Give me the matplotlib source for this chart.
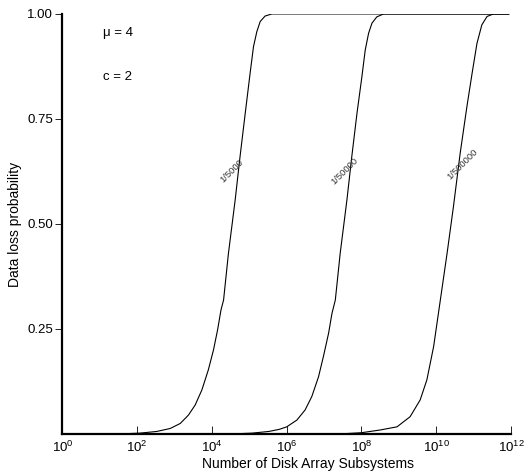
import numpy as np
import matplotlib.pyplot as plt

plt.rcParams['font.family'] = ['Liberation Sans', 'DejaVu Sans']
plt.rcParams['mathtext.fontset'] = 'custom'
plt.rcParams['mathtext.rm'] = 'Liberation Sans'

# log10 of number of subsystems and data loss probability, one set per rate
logn_5k = [0.0, 1.5, 2.07, 2.52, 2.88, 3.15, 3.37, 3.55, 3.73, 3.90, 4.04, 4.15, 4.24,
           4.31, 4.44, 4.62, 4.75, 4.89, 5.02, 5.11, 5.20, 5.29, 5.42, 5.60, 11.94]
prob_5k = [0.0, 0.0, 0.002, 0.006, 0.013, 0.025, 0.045, 0.069, 0.105, 0.152, 0.20, 0.248, 0.295,
           0.319, 0.43, 0.557, 0.66, 0.764, 0.859, 0.922, 0.958, 0.982, 0.995, 1.0, 1.0]

logn_50k = [0.0, 4.5, 5.07, 5.52, 5.80, 6.00, 6.27, 6.49, 6.67, 6.85, 6.98, 7.12, 7.21,
            7.30, 7.43, 7.61, 7.74, 7.88, 8.01, 8.10, 8.19, 8.28, 8.41, 8.59, 11.94]
prob_50k = [0.0, 0.0, 0.002, 0.006, 0.011, 0.017, 0.033, 0.057, 0.089, 0.136, 0.184, 0.24, 0.287,
            0.319, 0.43, 0.557, 0.66, 0.764, 0.85, 0.914, 0.954, 0.978, 0.993, 1.0, 1.0]

logn_500k = [0.0, 7.4, 8.0, 8.50, 8.95, 9.30, 9.57, 9.75, 9.93, 10.11, 10.29, 10.46,
             10.64, 10.82, 10.96, 11.09, 11.22, 11.36, 11.53, 11.94]
prob_500k = [0.0, 0.0, 0.003, 0.0095, 0.017, 0.041, 0.081, 0.129, 0.208, 0.319, 0.43, 0.541,
             0.668, 0.779, 0.859, 0.93, 0.974, 0.994, 1.0, 1.0]

rate_labels = ['1/5000', '1/50000', '1/500000']
label_logn = [4.54, 7.56, 10.69]
label_prob = [0.625, 0.625, 0.643]

fig = plt.figure(figsize=(5.31, 4.73), dpi=100)
ax = fig.add_axes([0.1177, 0.0825, 0.8446, 0.888])

for lx, p in [(logn_5k, prob_5k), (logn_50k, prob_50k), (logn_500k, prob_500k)]:
    ax.plot(10**np.array(lx), p, color='black', lw=0.8)

for txt, lx, p in zip(rate_labels, label_logn, label_prob):
    ax.text(10**lx, p, txt, rotation=45, fontsize=6.8, color='#333333',
            ha='center', va='center', rotation_mode='anchor')

ax.set_xscale('log')
ax.set_xlim(1, 1e12)
ax.set_ylim(0, 1)
ax.set_xticks([10.0**k for k in range(0, 13, 2)])
ax.set_xticklabels([f'$10^{{{k}}}$' for k in range(0, 13, 2)])
ax.minorticks_off()
ax.set_yticks([0.25, 0.5, 0.75, 1.0])
ax.set_yticklabels(['0.25', '0.50', '0.75', '1.00'])

ax.tick_params(axis='x', direction='in', length=6, width=0.6, labelsize=9.5, pad=4)
ax.tick_params(axis='y', direction='out', length=5, width=0.6, labelsize=9.5, pad=2)
for s in ['top', 'right']:
    ax.spines[s].set_visible(False)
for s in ['left', 'bottom']:
    ax.spines[s].set_linewidth(1.6)

ax.set_xlabel('Number of Disk Array Subsystems', fontsize=10)
ax.xaxis.set_label_coords(0.547, -0.055)
ax.set_ylabel('Data loss probability', fontsize=10)
ax.yaxis.set_label_coords(-0.09, 0.5)

ax.text(0.09, 0.955, 'μ = 4', transform=ax.transAxes, fontsize=9.5, va='center')
ax.text(0.09, 0.85, 'c = 2', transform=ax.transAxes, fontsize=9.5, va='center')

fig.savefig('out.png', dpi=100)
